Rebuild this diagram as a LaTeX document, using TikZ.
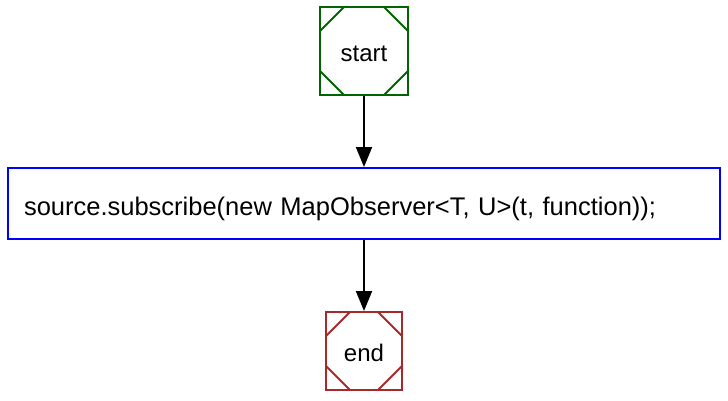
\documentclass[tikz,border=0pt]{standalone}
\usepackage{fontspec}
\setmainfont{Liberation Sans}
\definecolor{startgreen}{RGB}{0, 100, 0}
\definecolor{endred}{RGB}{165, 42, 42}
\definecolor{codeblue}{RGB}{0, 0, 255}
\usetikzlibrary{arrows.meta, positioning}
\tikzset{
	terminal/.style={rectangle, line width=2pt, align=center, font=\fontsize{24}{28}\selectfont, text height=20pt, text depth=0pt,
		path picture={
			\draw[line width=2pt, draw=#1] ([xshift=24pt]path picture bounding box.north west) -- ([yshift=-24pt]path picture bounding box.north west);
			\draw[line width=2pt, draw=#1] ([xshift=-24pt]path picture bounding box.north east) -- ([yshift=-24pt]path picture bounding box.north east);
			\draw[line width=2pt, draw=#1] ([xshift=24pt]path picture bounding box.south west) -- ([yshift=24pt]path picture bounding box.south west);
			\draw[line width=2pt, draw=#1] ([xshift=-24pt]path picture bounding box.south east) -- ([yshift=24pt]path picture bounding box.south east);
		}, draw=#1},
	code/.style={rectangle, draw=codeblue, line width=2pt, minimum width=712pt, minimum height=71pt, text width=680pt, inner xsep=16pt, align=left, font=\fontsize{25.5}{30}\selectfont, text height=23pt, text depth=0pt},
	arrow/.style={-{Triangle[length=20pt, width=16pt]}, line width=2pt, draw=black},
}
\begin{document}
\begin{tikzpicture}[x=1pt, y=1pt]
		\useasboundingbox (0,0) rectangle (728,-400);
		\node[terminal=startgreen, minimum width=88pt, minimum height=88pt] (start) at (364,-51) {start};
		\node[code, below=71pt of start] (subscribe) {source.subscribe(new MapObserver<T, U>(t, function));};
		\node[terminal=endred, minimum width=76pt, minimum height=78pt, below=71pt of subscribe] (end) {end};
		\draw[arrow] (start) -- (subscribe);
		\draw[arrow] (subscribe) -- (end);
	\end{tikzpicture}
\end{document}
